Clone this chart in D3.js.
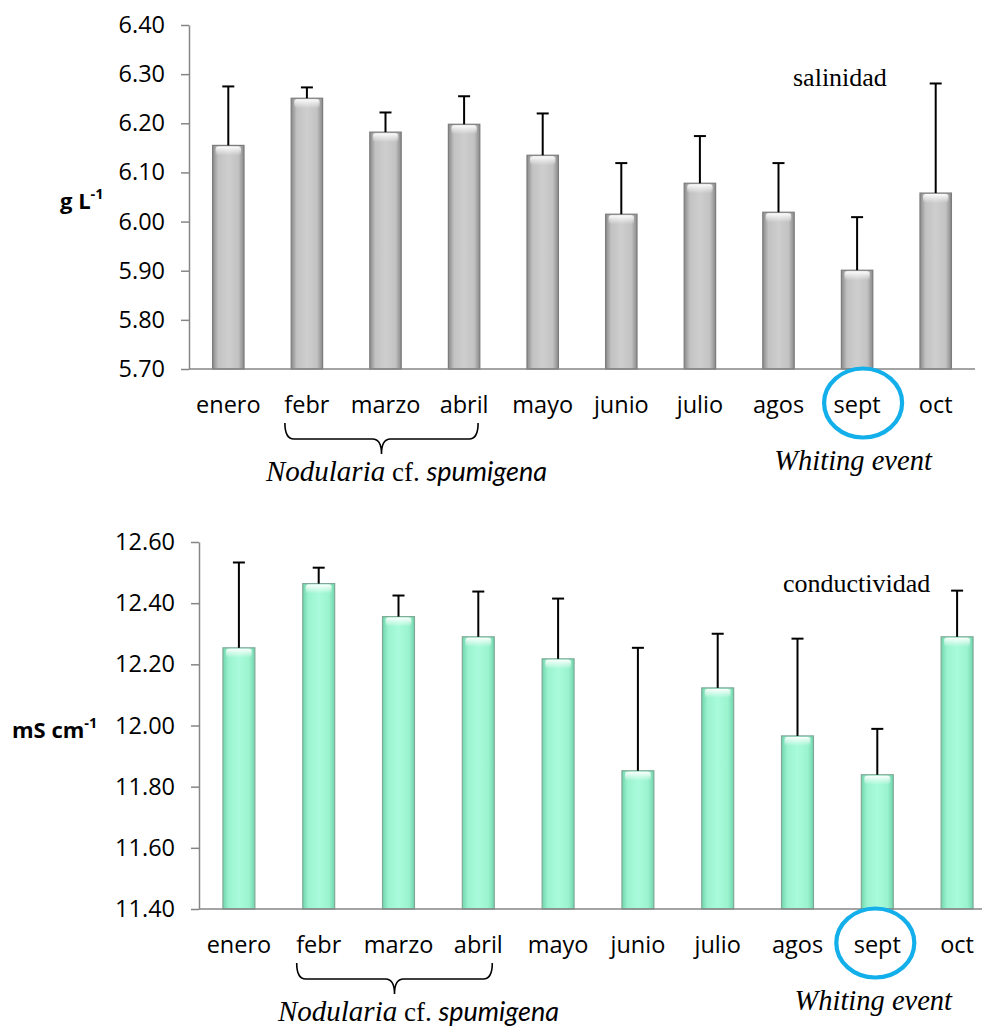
<!DOCTYPE html>
<html>
<head>
<meta charset="utf-8">
<script src="https://cdn.jsdelivr.net/npm/d3@7/dist/d3.min.js"></script>
<style>
  html, body { margin: 0; padding: 0; background: #fff; }
  svg { display: block; }
</style>
</head>
<body>
<svg id="chart" width="982" height="1027"></svg>
<script>
// ---------- DATA ----------
const months = ["enero", "febr", "marzo", "abril", "mayo", "junio", "julio", "agos", "sept", "oct"];

const salinity   = [6.155, 6.251, 6.182, 6.198, 6.135, 6.015, 6.078, 6.019, 5.901, 6.058];
const salinitySD = [0.120, 0.022, 0.040, 0.057, 0.085, 0.104, 0.096, 0.100, 0.108, 0.223];
const salinityTicks = [5.70, 5.80, 5.90, 6.00, 6.10, 6.20, 6.30, 6.40];

const conductivity   = [12.254, 12.464, 12.356, 12.290, 12.218, 11.852, 12.123, 11.966, 11.839, 12.290];
const conductivitySD = [0.279, 0.052, 0.069, 0.148, 0.197, 0.402, 0.177, 0.318, 0.150, 0.151];
const conductivityTicks = [11.40, 11.60, 11.80, 12.00, 12.20, 12.40, 12.60];

const bloomMonths = ["febr", "abril"];
const eventMonth = "sept";

// ---------- SETUP ----------
const svg = d3.select("#chart");
const defs = svg.append("defs");

function makeGradients(id, edge, mid, center) {
  const g = defs.append("linearGradient").attr("id", id)
    .attr("x1", "0%").attr("x2", "100%").attr("y1", "0%").attr("y2", "0%");
  [[0, edge], [0.18, mid], [0.5, center], [0.82, mid], [1, edge]].forEach(([o, c]) =>
    g.append("stop").attr("offset", o).attr("stop-color", c));
}
makeGradients("grayGrad", "#8a8a8a", "#c2c2c2", "#cecece");
makeGradients("tealGrad", "#70d6ae", "#9bf3ce", "#a9fbdb");

const hl = defs.append("linearGradient").attr("id", "hlGrad")
  .attr("x1", "0%").attr("x2", "0%").attr("y1", "0%").attr("y2", "100%");
hl.append("stop").attr("offset", 0).attr("stop-color", "#ffffff").attr("stop-opacity", 0.95);
hl.append("stop").attr("offset", 1).attr("stop-color", "#ffffff").attr("stop-opacity", 0);

const sansFont = "'Open Sans', 'Noto Sans', sans-serif";
const serifFont = "'Liberation Serif', 'Times New Roman', serif";

function drawChart(opt) {
  const g = svg.append("g");
  const x = d3.scaleBand().domain(months).range([opt.left, opt.right]).paddingInner(0.6).paddingOuter(0.3);
  const y = d3.scaleLinear().domain(opt.domain).range([opt.bottom, opt.top]);
  const bw = x.bandwidth();

  // bars
  const bars = g.append("g");
  months.forEach((m, i) => {
    const v = opt.values[i];
    const x0 = x(m);
    const yt = y(v);
    bars.append("rect")
      .attr("x", x0).attr("y", yt)
      .attr("width", bw).attr("height", y(opt.domain[0]) - yt)
      .attr("fill", `url(#${opt.grad})`)
      .attr("stroke", opt.stroke).attr("stroke-width", 1.2);
    bars.append("rect")
      .attr("x", x0 + 3).attr("y", yt + 1)
      .attr("width", bw - 6).attr("height", 9)
      .attr("rx", 3)
      .attr("fill", "url(#hlGrad)");
  });

  // error bars (upper only)
  const eb = g.append("g").attr("stroke", "#000").attr("stroke-width", 2);
  months.forEach((m, i) => {
    const cx = x(m) + bw / 2;
    const v = opt.values[i], e = v + opt.sd[i];
    eb.append("line").attr("x1", cx).attr("x2", cx).attr("y1", y(v)).attr("y2", y(e));
    eb.append("line").attr("x1", cx - 6).attr("x2", cx + 6).attr("y1", y(e)).attr("y2", y(e));
  });

  // y axis
  const yAxis = d3.axisLeft(y).tickValues(opt.ticks).tickFormat(d3.format(".2f"))
    .tickSize(8).tickPadding(16).tickSizeOuter(0);
  const ya = g.append("g").attr("transform", `translate(${opt.left},0)`).call(yAxis);
  ya.select(".domain").attr("stroke", "#868686").attr("stroke-width", 1.5);
  ya.selectAll(".tick line").attr("stroke", "#868686").attr("stroke-width", 1.5);
  ya.selectAll(".tick text").attr("font-family", sansFont).attr("font-size", 23.5).attr("fill", "#000");

  // x axis
  const xAxis = d3.axisBottom(x).tickSize(0).tickPadding(27).tickSizeOuter(0);
  const xa = g.append("g").attr("transform", `translate(0,${opt.bottom})`).call(xAxis);
  xa.select(".domain").attr("stroke", "#868686").attr("stroke-width", 1.5)
    .attr("d", `M${opt.left},0H${opt.axisEnd}`);
  xa.selectAll(".tick text").attr("font-family", sansFont).attr("font-size", 23.5).attr("fill", "#000");

  // y label
  const yl = g.append("text").attr("x", opt.ylabX).attr("y", opt.ylabY)
    .attr("font-family", sansFont).attr("font-weight", "bold").attr("font-size", 22).attr("fill", "#000");
  yl.append("tspan").text(opt.ylabel);
  yl.append("tspan").attr("font-size", 14.5).attr("dy", -10).text("-1");

  // series title
  g.append("text").attr("x", opt.titleX).attr("y", opt.titleY)
    .attr("font-family", serifFont).attr("font-size", 26).attr("fill", "#000")
    .text(opt.title);

  // brace under bloom months
  const bx1 = x(bloomMonths[0]) + bw / 2 - 22;
  const bx2 = x(bloomMonths[1]) + bw / 2 + 14;
  const bcx = (bx1 + bx2) / 2;
  const yT = opt.bottom + 54, yM = yT + 16, yB = yM + 15, r = 9;
  g.append("path")
    .attr("d", `M${bx1},${yT} Q${bx1},${yM} ${bx1 + r},${yM} L${bcx - r},${yM} Q${bcx},${yM} ${bcx},${yB} Q${bcx},${yM} ${bcx + r},${yM} L${bx2 - r},${yM} Q${bx2},${yM} ${bx2},${yT}`)
    .attr("fill", "none").attr("stroke", "#000").attr("stroke-width", 1.6);

  const nt = g.append("text").attr("x", bcx + opt.nodOffset).attr("y", opt.bottom + 112)
    .attr("text-anchor", "middle").attr("fill", "#000");
  nt.append("tspan").attr("font-family", serifFont).attr("font-style", "italic").attr("font-size", 29).text("Nodularia");
  nt.append("tspan").attr("font-family", serifFont).attr("font-size", 27).text(" cf. ");
  nt.append("tspan").attr("font-family", "Lato, 'Open Sans', sans-serif").attr("font-style", "italic").attr("font-size", 27).text("spumigena");

  // circle around event month
  const ex = x(eventMonth) + bw / 2;
  g.append("ellipse").attr("cx", ex + opt.circOffset).attr("cy", opt.bottom + 34)
    .attr("rx", 39).attr("ry", 34.5)
    .attr("fill", "none").attr("stroke", "#12afea").attr("stroke-width", 4.2);

  g.append("text").attr("x", ex - 4).attr("y", opt.bottom + 101)
    .attr("text-anchor", "middle").attr("font-family", serifFont).attr("font-style", "italic")
    .attr("font-size", 28.5).attr("fill", "#000").text("Whiting event");
}

drawChart({
  values: salinity, sd: salinitySD, ticks: salinityTicks,
  domain: [5.70, 6.40], left: 189, right: 975, axisEnd: 975, top: 25, bottom: 369,
  grad: "grayGrad", stroke: "#7c7c7c",
  ylabel: "g L", ylabX: 60, ylabY: 209,
  title: "salinidad", titleX: 793, titleY: 86,
  nodOffset: 25, circOffset: 6
});

drawChart({
  values: conductivity, sd: conductivitySD, ticks: conductivityTicks,
  domain: [11.40, 12.60], left: 199, right: 997, axisEnd: 982, top: 542, bottom: 909,
  grad: "tealGrad", stroke: "#7fa996",
  ylabel: "mS cm", ylabX: 12, ylabY: 738,
  title: "conductividad", titleX: 783, titleY: 592,
  nodOffset: 24, circOffset: -2
});
</script>
</body>
</html>
